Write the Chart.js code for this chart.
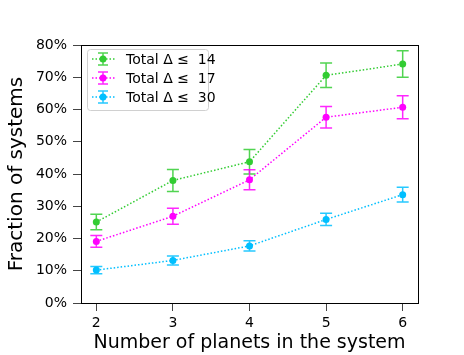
<!DOCTYPE html>
<html>
<head>
<meta charset="utf-8">
<script src="https://cdn.jsdelivr.net/npm/chart.js@4"></script>
<style>
  html, body { margin: 0; padding: 0; background: #fff; }
  #wrap { width: 464px; height: 355px; }
</style>
</head>
<body>
<div id="wrap"><canvas id="chart" width="464" height="355"></canvas></div>
<script>
// planets per system
const planets = [2, 3, 4, 5, 6];
const xTicks = [2, 3, 4, 5, 6];
const yTicks = [0, 10, 20, 30, 40, 50, 60, 70, 80];

const labels = ["Total Δ ≤  14", "Total Δ ≤  17", "Total Δ ≤  30"];
const colors = ["#33cc33", "#ff00ff", "#00bfff"];

// fractions (%) and their errors
const frac14 = [25.1, 38.0, 43.8, 70.6, 74.1];
const err14 = [2.4, 3.4, 3.8, 3.8, 4.1];
const frac17 = [19.1, 26.9, 38.2, 57.6, 60.7];
const err17 = [1.8, 2.5, 3.1, 3.3, 3.6];
const frac30 = [10.2, 13.2, 17.7, 25.9, 33.6];
const err30 = [1.1, 1.4, 1.6, 1.9, 2.3];

const series = [frac14, frac17, frac30];
const errors = [err14, err17, err30];

const FONT = "'DejaVu Sans', sans-serif";

// vertical error bars with caps, drawn through the scales
const errorBars = {
  id: 'errorBars',
  afterDatasetsDraw(chart) {
    const ctx = chart.ctx;
    const ys = chart.scales.y;
    chart.data.datasets.forEach((ds, i) => {
      const meta = chart.getDatasetMeta(i);
      ctx.save();
      ctx.strokeStyle = ds.borderColor;
      ctx.globalAlpha = 0.85;
      ctx.lineWidth = 1.5;
      meta.data.forEach((pt, j) => {
        const v = ds.data[j].y;
        const e = errors[i][j];
        const top = ys.getPixelForValue(v + e);
        const bot = ys.getPixelForValue(v - e);
        ctx.beginPath();
        ctx.moveTo(pt.x, top); ctx.lineTo(pt.x, bot);
        ctx.moveTo(pt.x - 6, top); ctx.lineTo(pt.x + 6, top);
        ctx.moveTo(pt.x - 6, bot); ctx.lineTo(pt.x + 6, bot);
        ctx.stroke();
      });
      ctx.restore();
    });
  }
};

// frame around the plot and legend box in upper left
const frameAndLegend = {
  id: 'frameAndLegend',
  afterDraw(chart) {
    const ctx = chart.ctx;
    const a = chart.chartArea;
    ctx.save();
    ctx.strokeStyle = '#000';
    ctx.lineWidth = 1;
    ctx.strokeRect(a.left + 0.5, a.top + 0.5, a.right - a.left, a.bottom - a.top);

    const bx = 87, by = 49, bw = 121, bh = 61;
    ctx.beginPath();
    ctx.roundRect(bx + 0.5, by + 0.5, bw, bh, 3);
    ctx.fillStyle = 'rgba(255,255,255,0.8)';
    ctx.fill();
    ctx.strokeStyle = '#d0d0d0';
    ctx.stroke();

    chart.data.datasets.forEach((ds, i) => {
      const cy = 59 + i * 19;
      const cx = 103;
      ctx.strokeStyle = ds.borderColor;
      ctx.lineWidth = 1.5;
      ctx.setLineDash([1.5, 2]);
      ctx.beginPath();
      ctx.moveTo(92, cy); ctx.lineTo(115, cy);
      ctx.stroke();
      ctx.setLineDash([]);
      ctx.globalAlpha = 0.85;
      ctx.beginPath();
      ctx.moveTo(cx, cy - 6); ctx.lineTo(cx, cy + 6);
      ctx.moveTo(cx - 5, cy - 6); ctx.lineTo(cx + 5, cy - 6);
      ctx.moveTo(cx - 5, cy + 6); ctx.lineTo(cx + 5, cy + 6);
      ctx.stroke();
      ctx.globalAlpha = 1;
      ctx.fillStyle = ds.borderColor;
      ctx.beginPath();
      ctx.arc(cx, cy, 3.5, 0, Math.PI * 2);
      ctx.fill();
      ctx.fillStyle = '#000';
      ctx.font = '14px ' + FONT;
      ctx.textBaseline = 'middle';
      ctx.textAlign = 'left';
      ctx.fillText(ds.label, 126, cy + 1);
    });
    ctx.restore();
  }
};

const datasets = series.map((s, i) => ({
  label: labels[i],
  data: planets.map((p, j) => ({ x: p, y: s[j] })),
  borderColor: colors[i],
  backgroundColor: colors[i],
  borderWidth: 1.5,
  borderDash: [1.5, 2],
  pointRadius: 3.5,
  pointHoverRadius: 3.5,
  pointBorderWidth: 0,
  showLine: true,
  tension: 0
}));

new Chart(document.getElementById('chart'), {
  type: 'scatter',
  data: { datasets },
  plugins: [errorBars, frameAndLegend],
  options: {
    responsive: false,
    animation: false,
    layout: { padding: { top: 45, right: 46, left: 0, bottom: 0 } },
    plugins: {
      legend: { display: false },
      tooltip: { enabled: false }
    },
    scales: {
      x: {
        type: 'linear',
        min: 1.8,
        max: 6.2,
        afterBuildTicks: s => { s.ticks = xTicks.map(v => ({ value: v })); },
        afterFit: s => { s.height = 52; },
        grid: { display: true, drawOnChartArea: false, drawTicks: true, tickLength: 8, color: '#444' },
        border: { display: true, color: '#000' },
        ticks: { color: '#000', font: { family: FONT, size: 14 }, padding: 4, maxRotation: 0 },
        title: { display: true, text: 'Number of planets in the system', color: '#000', font: { family: FONT, size: 19 }, padding: { top: 0, bottom: 1 } }
      },
      y: {
        min: 0,
        max: 80,
        afterBuildTicks: s => { s.ticks = yTicks.map(v => ({ value: v })); },
        afterFit: s => { s.width = 81; },
        grid: { display: true, drawOnChartArea: false, drawTicks: true, tickLength: 8, color: '#444' },
        border: { display: true, color: '#000' },
        ticks: { color: '#000', font: { family: FONT, size: 14 }, padding: 6, callback: v => v + '%' },
        title: { display: true, text: 'Fraction of systems', color: '#000', font: { family: FONT, size: 20 }, padding: { top: 5, bottom: 0 } }
      }
    }
  }
});
</script>
</body>
</html>
